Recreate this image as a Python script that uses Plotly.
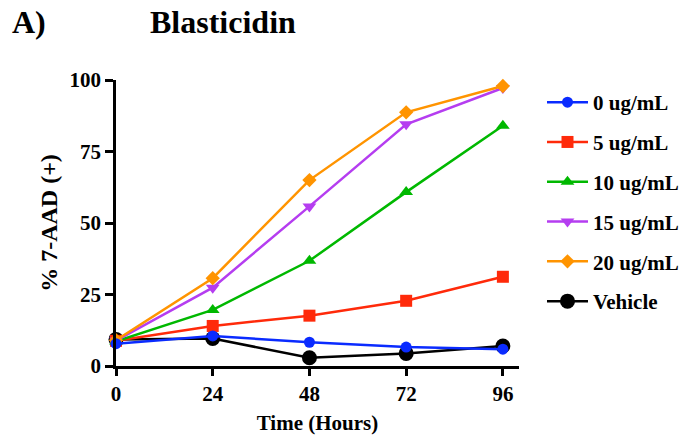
import plotly.graph_objects as go

hours = [0, 24, 48, 72, 96]
series_names = ["0 ug/mL", "5 ug/mL", "10 ug/mL", "15 ug/mL", "20 ug/mL", "Vehicle"]
v0 = [7.8, 10.5, 8.3, 6.6, 5.9]
v5 = [8.8, 14.0, 17.6, 22.8, 31.2]
v10 = [8.6, 19.6, 36.8, 60.8, 84.0]
v15 = [8.9, 27.4, 55.8, 84.5, 97.2]
v20 = [9.0, 30.7, 65.0, 88.7, 97.9]
vehicle = [9.3, 9.6, 2.9, 4.4, 7.0]
x_ticks = [0, 24, 48, 72, 96]
y_ticks = [0, 25, 50, 75, 100]

styles = {
    "0 ug/mL": dict(color="#0A2BFF", symbol="circle", size=11),
    "5 ug/mL": dict(color="#FF2A0A", symbol="square", size=12),
    "10 ug/mL": dict(color="#00B800", symbol="triangle-up", size=12),
    "15 ug/mL": dict(color="#B53DF0", symbol="triangle-down", size=12),
    "20 ug/mL": dict(color="#FF9400", symbol="diamond", size=11),
    "Vehicle": dict(color="#000000", symbol="circle", size=15),
}
values = {"0 ug/mL": v0, "5 ug/mL": v5, "10 ug/mL": v10,
          "15 ug/mL": v15, "20 ug/mL": v20, "Vehicle": vehicle}

draw_order = ["Vehicle", "5 ug/mL", "10 ug/mL", "15 ug/mL", "20 ug/mL", "0 ug/mL"]

fig = go.Figure()
for name in draw_order:
    s = styles[name]
    fig.add_trace(go.Scatter(
        x=hours, y=values[name], name=name, mode="lines+markers",
        line=dict(color=s["color"], width=2.5),
        marker=dict(color=s["color"], symbol=s["symbol"], size=s["size"]),
        legendrank=series_names.index(name) + 1,
        legendgroup=name,
        cliponaxis=False,
    ))

font_family = "Liberation Serif"
W, H = 685, 441
L, R, T, B = 116, 166, 80, 75
fig.update_layout(
    width=W, height=H,
    margin=dict(l=L, r=R, t=T, b=B, autoexpand=False),
    paper_bgcolor="white", plot_bgcolor="white",
    font=dict(family=font_family, size=21, color="black"),
    showlegend=True,
    legend=dict(xref="container", yref="container",
                x=542 / W, y=1 - 82 / H,
                xanchor="left", yanchor="top",
                font=dict(family=font_family, size=21, color="black", weight="bold"),
                tracegroupgap=9.5, itemwidth=41, bgcolor="rgba(0,0,0,0)",
                maxheight=400),
    xaxis=dict(range=[0, 100], tickvals=x_ticks, ticktext=[str(t) for t in x_ticks],
               showgrid=False, zeroline=False, showline=True, linecolor="black", linewidth=2.5,
               ticks="outside", ticklen=7, tickwidth=2.5, tickcolor="black",
               tickfont=dict(family=font_family, size=21, weight="bold"),
               title=dict(text="<b>Time (Hours)</b>", font=dict(family=font_family, size=21), standoff=11)),
    yaxis=dict(range=[0, 100], tickvals=y_ticks, ticktext=[str(t) for t in y_ticks],
               showgrid=False, zeroline=False, showline=True, linecolor="black", linewidth=2.5,
               ticks="outside", ticklen=8, tickwidth=2.5, tickcolor="black",
               tickfont=dict(family=font_family, size=21, weight="bold"),
               title=dict(text="<b>% 7-AAD (+)</b>", font=dict(family=font_family, size=24), standoff=6)),
    annotations=[
        dict(text="<b>A)</b>", x=10, y=22, xref="paper", yref="paper", showarrow=False,
             font=dict(family=font_family, size=32), xanchor="left", yanchor="middle"),
        dict(text="<b>Blasticidin</b>", x=148, y=22, xref="paper", yref="paper", showarrow=False,
             font=dict(family=font_family, size=32), xanchor="left", yanchor="middle"),
    ],
)
pw = W - L - R
ph = H - T - B
for ann in fig.layout.annotations:
    px, py = ann.x, ann.y
    ann.x = (px - L) / pw
    ann.y = (H - B - py) / ph

fig.write_html("out.html")
